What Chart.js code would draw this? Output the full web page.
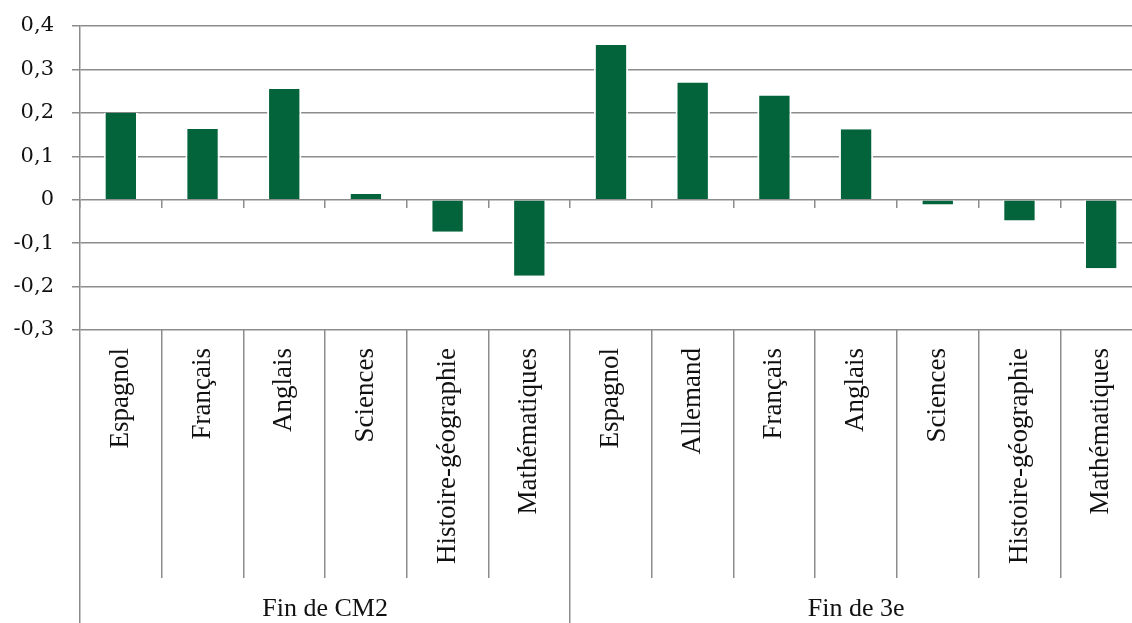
<!DOCTYPE html>
<html>
<head>
    <meta charset="utf-8">
    <title>Écarts par discipline</title>
    <script src="https://cdn.jsdelivr.net/npm/chart.js"></script>
    <style>
        html, body { margin: 0; padding: 0; background: #fff; overflow: hidden; }
        #wrap { position: relative; width: 1146px; height: 623px; }
    </style>
</head>
<body>
    <div id="wrap"><canvas id="myChart"></canvas></div>
    <script>
        // matières (axe des catégories)
        const subjects = ['Espagnol', 'Français', 'Anglais', 'Sciences', 'Histoire-géographie', 'Mathématiques',
                          'Espagnol', 'Allemand', 'Français', 'Anglais', 'Sciences', 'Histoire-géographie', 'Mathématiques'];
        // valeurs
        const values = [0.200, 0.163, 0.255, 0.013, -0.074, -0.175,
                        0.356, 0.270, 0.240, 0.162, -0.011, -0.048, -0.158];
        // groupes : libellé, début, fin (en nombre de catégories)
        const groupLabels = ['Fin de CM2', 'Fin de 3e'];
        const groupBounds = [0, 6, 13];
        const yTicks = [-0.3, -0.2, -0.1, 0, 0.1, 0.2, 0.3, 0.4];

        const gridColor = '#8c8c8c';
        const axisFont = { family: 'DejaVu Serif', size: 21 };
        const catFont = { family: 'Liberation Serif', size: 27 };
        const groupFont = { family: 'Liberation Serif', size: 26 };

        const fmt = v => String(Math.round(v * 10) / 10).replace('.', ',');

        const groupTicks = [];
        groupBounds.forEach(b => groupTicks.push(b));
        groupLabels.forEach((g, i) => groupTicks.push((groupBounds[i] + groupBounds[i + 1]) / 2));
        groupTicks.sort((a, b) => a - b);

        const groupOf = v => {
            for (let i = 0; i < groupLabels.length; i++) {
                if (v === (groupBounds[i] + groupBounds[i + 1]) / 2) return groupLabels[i];
            }
            return '';
        };

        const ctx = document.getElementById('myChart').getContext('2d');
        new Chart(ctx, {
            type: 'bar',
            data: {
                labels: subjects,
                datasets: [{
                    data: values,
                    backgroundColor: '#03633a',
                    borderColor: '#ffffff',
                    borderWidth: { top: 0, bottom: 0, left: 2, right: 2 },
                    borderSkipped: false,
                    barPercentage: 0.42,
                    categoryPercentage: 1
                }]
            },
            options: {
                responsive: true,
                maintainAspectRatio: false,
                animation: false,
                layout: { padding: { top: 26, right: 4, bottom: 0, left: 0 } },
                plugins: { legend: { display: false }, tooltip: { enabled: false } },
                scales: {
                    y: {
                        min: -0.3, max: 0.4,
                        afterBuildTicks: s => { s.ticks = yTicks.map(v => ({ value: v })); },
                        afterFit: s => { s.width = 80; s.paddingTop = 12; s.paddingBottom = 12; },
                        ticks: { font: axisFont, color: '#111', padding: 18, callback: v => fmt(v) },
                        grid: { color: gridColor, lineWidth: 1.5, tickLength: 8 },
                        border: { color: gridColor, width: 1.5 }
                    },
                    x: {
                        weight: 1,
                        afterFit: s => { s.height = 248; },
                        grid: { drawOnChartArea: false, offset: true, color: gridColor, lineWidth: 1.5, tickLength: 248 },
                        border: { display: false },
                        ticks: { font: catFont, color: '#111', minRotation: 90, maxRotation: 90, autoSkip: false, padding: -230 }
                    },
                    x0: {
                        type: 'category',
                        position: { y: 0 },
                        grid: { drawOnChartArea: false, offset: true, color: gridColor, lineWidth: 1.5, tickLength: 8 },
                        border: { display: false },
                        ticks: { display: false }
                    },
                    x2: {
                        type: 'linear',
                        position: 'bottom',
                        weight: 2,
                        min: 0, max: 13,
                        offset: false,
                        afterBuildTicks: s => { s.ticks = groupTicks.map(v => ({ value: v })); },
                        afterFit: s => { s.height = 45; },
                        grid: {
                            offset: false,
                            drawOnChartArea: false, lineWidth: 1.5, tickLength: 45,
                            color: c => (c.tick && groupBounds.includes(c.tick.value)) ? gridColor : 'rgba(0,0,0,0)'
                        },
                        border: { display: false },
                        ticks: { font: groupFont, color: '#111', padding: -29, maxRotation: 0, autoSkip: false, callback: v => groupOf(v) }
                    }
                }
            }
        });
    </script>
</body>
</html>
